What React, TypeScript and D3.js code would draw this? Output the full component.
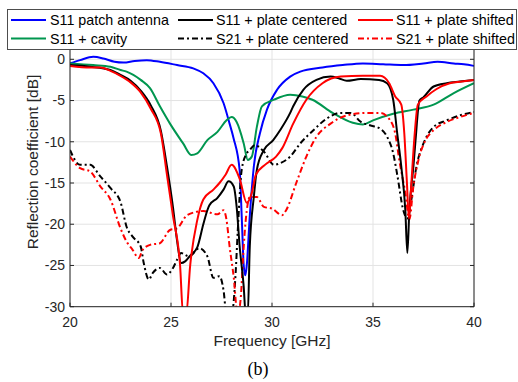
import React from "react";
import * as d3 from "d3";

type Pt = [number, number];

const xTicks = [20, 25, 30, 35, 40];
const yTicks = [0, -5, -10, -15, -20, -25, -30];

const s11Patch: Pt[] = [
  [20, -0.5], [20.5, -0.1], [21.15, 0.3], [21.65, 0.1], [22.2, -0.3], [22.65, -0.4], [23.2, -0.2],
  [23.8, -0.1], [24.45, -0.3], [25.3, -0.7], [26.1, -1.1], [26.6, -1.7], [27.1, -2.9], [27.6, -5.3],
  [27.9, -7.8], [28.1, -9.6], [28.4, -13.5], [28.5, -19], [28.6, -25], [28.68, -26.2], [28.75, -25],
  [28.9, -19], [29.1, -13], [29.4, -9.0], [29.75, -6.1], [30.25, -3.7], [30.9, -2.1], [31.4, -1.5],
  [32.5, -1.0], [33.5, -0.7], [34.5, -0.5], [35.5, -0.6], [36.5, -0.7], [37.5, -0.5], [38.2, -0.3],
  [39, -0.5], [39.5, -0.6], [40, -0.8],
];

const s11Cavity: Pt[] = [
  [20, -0.5], [21.15, -0.7], [22, -0.9], [22.5, -1.3], [22.8, -1.5], [23.5, -2.5], [23.96, -3.5],
  [24.45, -5.7], [24.95, -7.8], [25.6, -10.2], [26.0, -11.6], [26.3, -11.4], [26.8, -9.8], [27.3, -8.8],
  [27.75, -7.4], [28.0, -7.0], [28.25, -7.6], [28.6, -10.2], [28.8, -12.2], [29.0, -11.8], [29.25, -8.2],
  [29.5, -5.7], [30.1, -4.9], [30.9, -4.3], [31.5, -4.5], [32, -4.9], [33, -6.5], [34, -7.7],
  [34.5, -7.9], [35, -7.4], [36, -6.6], [37, -6.1], [38, -5.5], [39, -4.1], [40, -2.9],
];

const s11Centered: Pt[] = [
  [20, -0.7], [21, -0.9], [22, -1.3], [22.5, -1.9], [23, -2.6], [23.5, -3.8], [24, -5.6], [24.5, -8.7],
  [24.8, -13], [25.1, -18], [25.3, -22], [25.5, -24.7], [25.7, -24.5], [25.95, -23.8], [26.3, -22.8],
  [26.6, -20], [26.8, -18.3], [26.9, -17.7], [27.3, -16.8], [27.6, -15.8], [27.85, -14.8], [28.1, -15.4],
  [28.25, -17.9], [28.4, -22.7], [28.6, -27.6], [28.7, -31], [28.8, -31], [28.9, -22.7], [29.1, -16.7],
  [29.25, -13.4], [29.6, -11], [30.06, -9.8], [30.4, -8.6], [30.9, -6.5], [31.05, -5.7], [31.55, -3.7],
  [32.2, -2.5], [32.9, -2.1], [33.3, -2.3], [33.7, -2.6], [34.4, -2.4], [35.3, -2.5], [35.7, -2.9],
  [36.0, -4.9], [36.2, -9], [36.4, -13], [36.6, -18.3], [36.7, -23.5], [36.8, -18.3], [37.0, -13],
  [37.1, -10], [37.3, -5], [37.5, -4.6], [38.0, -3.3], [38.65, -2.9], [39.3, -2.7], [40, -2.5],
];

const s21Centered: Pt[] = [
  [20, -11], [20.5, -12.8], [21, -12.8], [21.5, -14.2], [22, -15.6], [22.5, -17.3], [22.8, -20.3],
  [23.1, -21.5], [23.5, -22.7], [23.65, -24.7], [23.9, -26.7], [24.1, -25.9], [24.45, -25.3],
  [24.8, -26.1], [25.1, -25.3], [25.3, -24.3], [25.5, -23.5], [25.9, -23.9], [26.4, -22.9], [26.8, -23.9],
  [27.1, -26.5], [27.4, -26.3], [27.6, -28], [27.75, -31], [28.0, -31], [28.2, -25.9], [28.3, -21],
  [28.5, -13.4], [28.75, -11.4], [28.9, -11], [29.15, -10.4], [29.6, -11.2], [30.1, -12.8], [30.4, -12.6],
  [30.9, -11.8], [31.4, -10.2], [32.05, -8.6], [32.7, -7.2], [33.4, -6.5], [33.9, -6.5], [34.4, -7.6],
  [34.85, -8.0], [35.35, -8.4], [35.7, -9.4], [36.0, -11.4], [36.2, -14], [36.5, -18.3], [36.7, -19.3],
  [36.9, -17], [37.15, -13], [37.5, -10.2], [38.0, -8.2], [38.65, -7.4], [39.3, -6.8], [40, -6.4],
];

const s11Shifted: Pt[] = [
  [20, -0.8], [21, -1.0], [21.5, -1.0], [22, -1.4], [22.5, -2.0], [23, -2.8], [23.5, -4.0], [24, -6.0],
  [24.5, -9.0], [24.8, -14], [25.1, -19], [25.45, -25], [25.6, -31], [25.75, -31], [25.95, -25],
  [26.3, -19.5], [26.6, -17], [27.1, -15.8], [27.4, -15], [27.7, -14], [28.0, -12.8], [28.4, -14.5],
  [28.75, -17.4], [29.0, -16.2], [29.2, -14], [29.65, -12.8], [30.2, -11.8], [30.5, -10.8], [31.05, -7.8],
  [31.7, -4.9], [32.5, -2.9], [33.4, -2.1], [34.5, -2.0], [35.35, -2.0], [35.8, -2.9], [36.1, -4.5],
  [36.4, -5.5], [36.55, -9], [36.68, -15], [36.78, -19.3], [36.9, -15], [37.05, -9.5], [37.22, -5.5],
  [37.65, -4.5], [38.15, -3.6], [38.8, -2.9], [39.4, -2.7], [40, -2.5],
];

const s21Shifted: Pt[] = [
  [20, -11.8], [20.5, -13.2], [21, -13.6], [21.5, -15.4], [22, -17], [22.5, -20.5], [22.8, -22.1],
  [23.1, -23.1], [23.4, -24.1], [23.6, -23.1], [23.96, -22.5], [24.45, -22.3], [24.95, -20.7],
  [25.3, -20.5], [25.8, -18.9], [26.6, -18.4], [27.3, -18.8], [27.6, -18.3], [27.75, -19.5], [27.9, -22.7],
  [28.1, -26.3], [28.3, -31], [28.45, -29], [28.6, -22.7], [28.7, -19.5], [28.8, -17.5], [28.9, -16.7],
  [29.25, -16.7], [29.6, -17.9], [30.0, -18.1], [30.5, -18.9], [30.7, -18.3], [31.2, -15], [31.7, -11.8],
  [32.2, -9.4], [32.9, -7.8], [33.7, -6.8], [34.7, -6.5], [35.35, -6.5], [35.85, -7.4], [36.1, -9.0],
  [36.3, -12.2], [36.6, -16.2], [36.8, -19.4], [37.0, -15.4], [37.25, -12.2], [37.6, -9.8], [38.0, -8.6],
  [38.65, -7.6], [39.3, -7.0], [40, -6.5],
];

const seriesNames = [
  "S11 patch antenna",
  "S11 + cavity",
  "S11 + plate centered",
  "S21 + plate centered",
  "S11 + plate shifted",
  "S21 + plate shifted",
];

const FONT = "'Liberation Sans', Arial, Helvetica, sans-serif";
const DASHDOT = "6,3,2,3";

export default function App() {
  const W = 518, H = 382;
  const left = 70, right = 474;
  const y0px = 59.3, y30px = 306.7;
  const pxPerDb = (y30px - y0px) / 30;
  const yTop = 1.15;
  const top = y0px - yTop * pxPerDb;
  const bottom = y30px;

  const x = d3.scaleLinear().domain([20, 40]).range([left, right]);
  const y = d3.scaleLinear().domain([-30, yTop]).range([bottom, top]);

  const line = d3
    .line<Pt>()
    .x((d) => x(d[0]))
    .y((d) => y(d[1]))
    .curve(d3.curveMonotoneX);

  const series = [
    { name: seriesNames[0], data: s11Patch, color: "#0000FF", dash: undefined as string | undefined },
    { name: seriesNames[1], data: s11Cavity, color: "#00964F", dash: undefined },
    { name: seriesNames[2], data: s11Centered, color: "#000000", dash: undefined },
    { name: seriesNames[3], data: s21Centered, color: "#000000", dash: DASHDOT },
    { name: seriesNames[4], data: s11Shifted, color: "#FF0000", dash: undefined },
    { name: seriesNames[5], data: s21Shifted, color: "#FF0000", dash: DASHDOT },
  ];

  const drawOrder = [0, 1, 3, 5, 2, 4];

  const axisColor = "#262626";
  const legendCols = [
    { lineX: 11, textX: 50 },
    { lineX: 178, textX: 216 },
    { lineX: 358, textX: 396 },
  ];
  const legendRows = [20, 38.5];
  const legendItems = [
    { s: 0, c: 0, r: 0 },
    { s: 1, c: 0, r: 1 },
    { s: 2, c: 1, r: 0 },
    { s: 3, c: 1, r: 1 },
    { s: 4, c: 2, r: 0 },
    { s: 5, c: 2, r: 1 },
  ];

  return (
    <svg width={W} height={H} style={{ position: "absolute", left: 0, top: 0, background: "#fff" }}>
      <defs>
        <clipPath id="plotClip">
          <rect x={left} y={top} width={right - left} height={bottom - top} />
        </clipPath>
      </defs>
      <rect x={0} y={0} width={W} height={H} fill="#fff" />
      {/* grid */}
      {xTicks.map((t) => (
        <line key={"gx" + t} x1={x(t)} x2={x(t)} y1={top} y2={bottom} stroke="#e3e3e3" strokeWidth={1} />
      ))}
      {yTicks.map((t) => (
        <line key={"gy" + t} x1={left} x2={right} y1={y(t)} y2={y(t)} stroke="#e3e3e3" strokeWidth={1} />
      ))}
      {/* data */}
      <g clipPath="url(#plotClip)">
        {drawOrder.map((i) => {
          const s = series[i];
          return (
            <path
              key={s.name}
              d={line(s.data) || ""}
              fill="none"
              stroke={s.color}
              strokeWidth={2}
              strokeDasharray={s.dash}
              strokeLinejoin="round"
            />
          );
        })}
      </g>
      {/* axes box */}
      <line x1={left} x2={left} y1={top} y2={bottom} stroke={axisColor} strokeWidth={1} />
      <line x1={right} x2={right} y1={top} y2={bottom} stroke={axisColor} strokeWidth={1} />
      <line x1={left} x2={right} y1={bottom} y2={bottom} stroke={axisColor} strokeWidth={1} />
      {yTicks.map((t) => (
        <g key={"ty" + t}>
          <line x1={left} x2={left + 4} y1={y(t)} y2={y(t)} stroke={axisColor} />
          <line x1={right - 4} x2={right} y1={y(t)} y2={y(t)} stroke={axisColor} />
          <text
            x={left - 5}
            y={y(t)}
            dy="0.35em"
            textAnchor="end"
            fontFamily={FONT}
            fontSize={14}
            fill={axisColor}
          >
            {t}
          </text>
        </g>
      ))}
      {xTicks.map((t) => (
        <g key={"tx" + t}>
          <line x1={x(t)} x2={x(t)} y1={bottom} y2={bottom - 4} stroke={axisColor} />
          <text x={x(t)} y={327} textAnchor="middle" fontFamily={FONT} fontSize={14} fill={axisColor}>
            {t}
          </text>
        </g>
      ))}
      <text x={272} y={346} textAnchor="middle" fontFamily={FONT} fontSize={15.5} fill={axisColor}>
        Frequency [GHz]
      </text>
      <text
        transform={`translate(38,162) rotate(-90)`}
        textAnchor="middle"
        fontFamily={FONT}
        fontSize={15.5}
        fill={axisColor}
      >
        Reflection coefficient [dB]
      </text>
      <text x={258} y={375} textAnchor="middle" fontFamily="'Liberation Serif', 'Times New Roman', serif" fontSize={18} fill="#000">
        (b)
      </text>
      {/* legend */}
      <rect x={7.5} y={9.5} width={509} height={40} fill="#fff" stroke="#4d4d4d" strokeWidth={1} />
      {legendItems.map((it) => {
        const s = series[it.s];
        const col = legendCols[it.c];
        const ry = legendRows[it.r];
        return (
          <g key={"lg" + it.s}>
            <line
              x1={col.lineX}
              x2={col.lineX + 35}
              y1={ry}
              y2={ry}
              stroke={s.color}
              strokeWidth={2}
              strokeDasharray={s.dash}
            />
            <text x={col.textX} y={ry} dy="0.35em" fontFamily={FONT} fontSize={14.3} fill="#000">
              {s.name}
            </text>
          </g>
        );
      })}
    </svg>
  );
}
